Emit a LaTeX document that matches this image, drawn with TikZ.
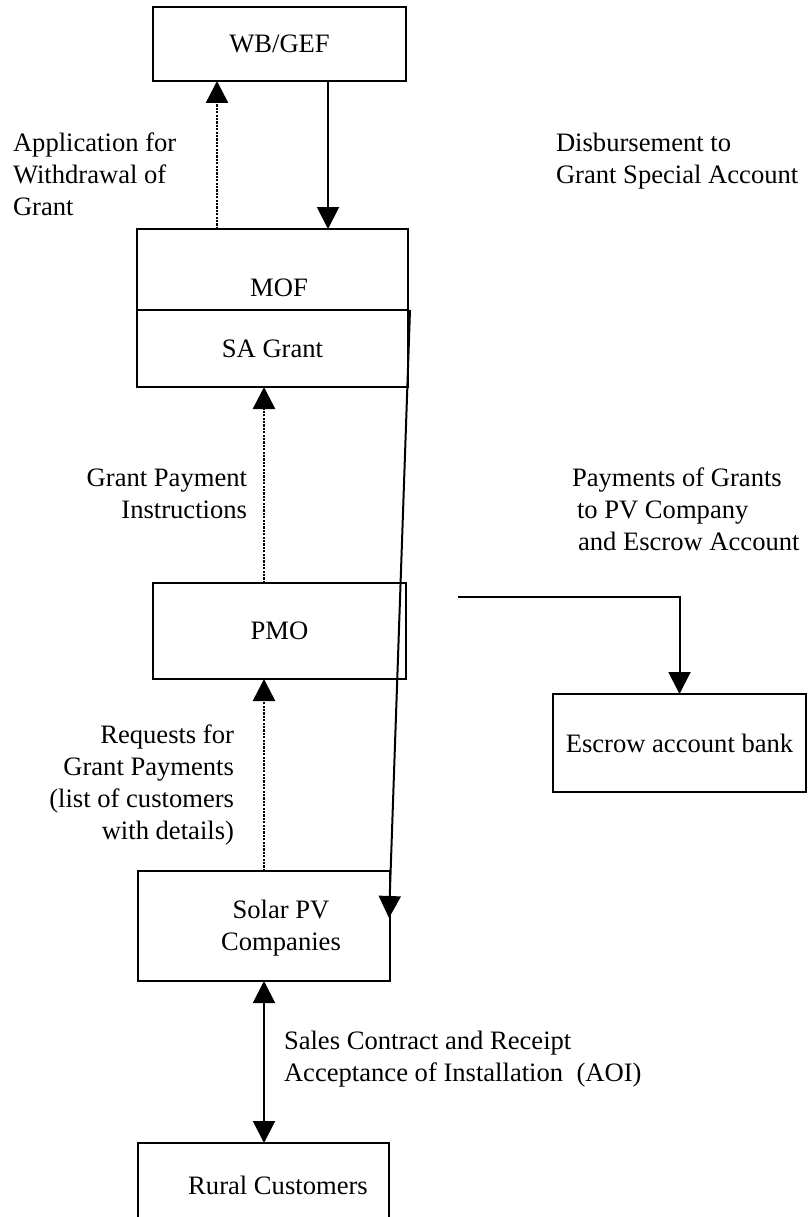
\documentclass[tikz,border=0pt]{standalone}
\usepackage{fontspec}
\setmainfont{Liberation Serif}
\usetikzlibrary{arrows.meta,calc}
\begin{document}
\begin{tikzpicture}[x=1pt,y=-1pt,
  box/.style={draw=black,line width=2pt,inner sep=0pt,outer sep=0pt,align=center,font=\fontsize{26.6}{31.8}\selectfont},
  lbl/.style={inner sep=0pt,outer sep=0pt,font=\fontsize{26.6}{31.8}\selectfont},
  flow/.style={line width=2pt,-{Triangle[width=22pt,length=22pt]}},
  flowdot/.style={flow,line width=2.6pt,dash pattern=on 2.2pt off 1.2pt},
  both/.style={line width=2pt,{Triangle[width=22pt,length=22pt]}-{Triangle[width=22pt,length=22pt]}}]
\path[use as bounding box] (0,0) rectangle (808,1217);
\path[fill=white,draw=none] (0,0) rectangle (808,1217);
\node[box,minimum width=253,minimum height=74] (wb) at (279.5,44) {WB/GEF};
\node[box,minimum width=271,minimum height=81] (mof) at (272.5,269.5) {};
\node[lbl] (mofl) at (279,288) {MOF};
\node[box,minimum width=271,minimum height=77] (sa) at (272.5,348.5) {SA Grant};
\node[box,minimum width=253,minimum height=96] (pmo) at (279.5,631) {PMO};
\node[box,minimum width=253,minimum height=98] (esc) at (679.5,743) {Escrow account bank};
\node[box,minimum width=252,minimum height=110] (solar) at (264,926) {};
\node[lbl,align=center] (solarl) at (281,928) {Solar PV\\Companies};
\node[box,minimum width=251,minimum height=75] (rural) at (263.5,1180.5) {};
\node[lbl] (rurall) at (278,1185) {Rural Customers};
\node[lbl,anchor=base west,align=left] (appl) at (13,215) {Application for\\Withdrawal of\\Grant};
\node[lbl,anchor=base west,align=left] (disb) at (556,183) {Disbursement to\\Grant Special Account};
\node[lbl,anchor=base east,align=right] (gpi) at (247,518) {Grant Payment\\Instructions};
\node[lbl,anchor=base west,align=left] (pay) at (572,550) {Payments of Grants\\\hspace*{5pt}to PV Company\\\hspace*{6pt}and Escrow Account};
\node[lbl,anchor=base east,align=right] (req) at (234,839) {Requests for\\Grant Payments\\(list of customers\hspace*{6pt}\\with details)};
\node[lbl,anchor=base west,align=left] (sales) at (284,1081) {Sales Contract and Receipt\\Acceptance of Installation~~(AOI)};
\coordinate (payst) at (458,597);
\draw[flowdot] ([xshift=-55.5]mof.north) -- ([xshift=-62.5]wb.south);
\draw[flow] ([xshift=48.5]wb.south) -- ([xshift=55.5]mof.north);
\draw[flowdot] ([xshift=-15.5]pmo.north) -- ([xshift=-8.5]sa.south);
\draw[flowdot] (solar.north) -- ([xshift=-15.5]pmo.south);
\draw[both] (solar.south) -- ([xshift=.5]rural.north);
\draw[flow] ([xshift=2]sa.north east) -- ($(solar.north east)+(-1,47)$);
\draw[flow] (payst) -| (esc.north);
\end{tikzpicture}
\end{document}
